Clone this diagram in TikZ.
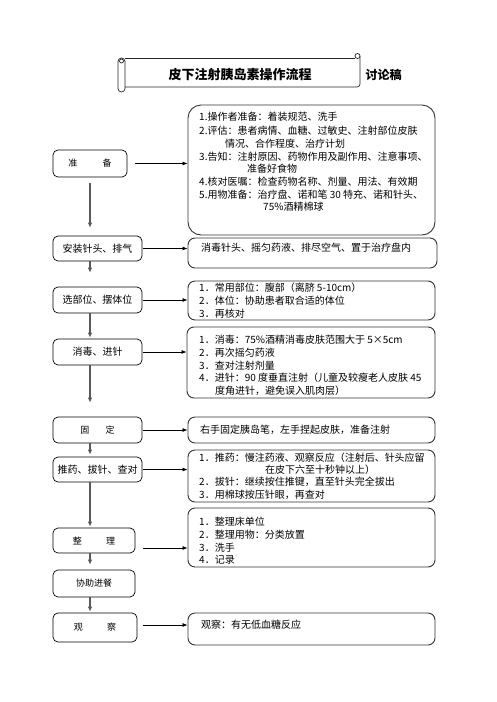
\documentclass[tikz,border=0pt]{standalone}
\usepackage{fontspec}
\setmainfont{Noto Sans CJK SC}
\usetikzlibrary{arrows.meta,calc}
\begin{document}
\begin{tikzpicture}[x=1pt,y=-1pt,
  lbox/.style={draw=black,line width=0.7pt,rounded corners=5pt,inner sep=0pt,font=\fontsize{10}{12}\selectfont},
  rbox/.style={draw=black!80,line width=0.9pt,rounded corners=7pt,inner sep=0pt},
  txt/.style={anchor=west,inner sep=0pt,font=\fontsize{10}{12}\selectfont},
  harr/.style={draw=black,line width=0.7pt,-{Latex[length=5pt,width=4pt]}},
  varr/.style={draw=black!65,line width=1.1pt,-{Latex[length=5pt,width=4.5pt]}},
  scroll/.style={draw=black!85,line width=0.7pt}]
\useasboundingbox (0,0) rectangle (496,702);
% title scroll
\draw[scroll] (125,58) -- (355,58);
\draw[scroll] (360,56) -- (360,84) arc[start angle=0,end angle=90,radius=3] -- (125,87);
\draw[scroll] (357.5,56) circle[radius=2.5];
\draw[scroll,rounded corners=3.4pt] (118,58) rectangle (125,92);
\draw[scroll] (121.5,61) circle[radius=2];
\node[inner sep=0pt,font=\bfseries\fontsize{13}{13}\selectfont] (title) at (240,75) {皮下注射胰岛素操作流程};
\node[inner sep=0pt,font=\bfseries\fontsize{12}{12}\selectfont] (draft) at (383.5,75) {讨论稿};
% left boxes
\node[lbox,minimum width=74pt,minimum height=27pt,font=\fontsize{9}{11}\selectfont] (n1) at (90,163.5) {准\hspace{2.8em}备};
\node[lbox,minimum width=89pt,minimum height=25pt] (n2) at (97.5,248.5) {安装针头、排气};
\node[lbox,minimum width=89pt,minimum height=26pt] (n3) at (97.5,300) {选部位、摆体位};
\node[lbox,minimum width=89pt,minimum height=26pt] (n4) at (97.5,352) {消毒、进针};
\node[lbox,minimum width=89pt,minimum height=26pt,font=\fontsize{9}{11}\selectfont] (n5) at (97.5,430) {固\hspace{1.8em}定};
\node[lbox,minimum width=89pt,minimum height=25pt] (n6) at (97.5,469.5) {推药、拔针、查对};
\node[lbox,minimum width=82pt,minimum height=25pt,font=\fontsize{9}{11}\selectfont] (n7) at (94,540.5) {整\hspace{2.7em}理};
\node[lbox,minimum width=82pt,minimum height=27pt,font=\fontsize{9}{11}\selectfont] (n8) at (94,583.5) {协助进餐};
\node[lbox,minimum width=84pt,minimum height=29pt,font=\fontsize{9}{11}\selectfont] (n9) at (95,627.5) {观\hspace{2.7em}察};
% right boxes
\node[rbox,rounded corners=13pt,minimum width=247pt,minimum height=130pt] (r1) at (311.5,170) {};
\node[rbox,minimum width=249pt,minimum height=30pt] (r2) at (312.5,253) {};
\node[rbox,minimum width=247pt,minimum height=39pt] (r3) at (311.5,300.5) {};
\node[rbox,minimum width=248pt,minimum height=71pt] (r4) at (311,362.5) {};
\node[rbox,minimum width=247pt,minimum height=26pt] (r5) at (311.5,430) {};
\node[rbox,minimum width=247pt,minimum height=52pt] (r6) at (311.5,476) {};
\node[rbox,minimum width=247pt,minimum height=59pt] (r7) at (311.5,537.5) {};
\node[rbox,minimum width=247pt,minimum height=32pt] (r8) at (311.5,629) {};
% texts
\node[txt] (t11) at (199,117) {1.操作者准备：着装规范、洗手};
\node[txt] (t12) at (199,130.5) {2.评估：患者病情、血糖、过敏史、注射部位皮肤};
\node[txt] (t13) at (225,143.5) {情况、合作程度、治疗计划};
\node[txt] (t14) at (199,156.5) {3.告知：注射原因、药物作用及副作用、注意事项、};
\node[txt] (t15) at (247,168.5) {准备好食物};
\node[txt] (t16) at (199,181.5) {4.核对医嘱：检查药物名称、剂量、用法、有效期};
\node[txt] (t17) at (199,194.5) {5.用物准备：治疗盘、诺和笔 30 特充、诺和针头、};
\node[txt] (t18) at (263,207) {75\%酒精棉球};
\node[txt] (t21) at (201,248) {消毒针头、摇匀药液、排尽空气、置于治疗盘内};
\node[txt] (t31) at (199,288) {1．常用部位：腹部（离脐 5-10cm）};
\node[txt] (t32) at (199,301) {2．体位：协助患者取合适的体位};
\node[txt] (t33) at (199,314) {3．再核对};
\node[txt] (t41) at (199,340) {1．消毒：75\%酒精消毒皮肤范围大于 5×5cm};
\node[txt] (t42) at (199,353) {2．再次摇匀药液};
\node[txt] (t43) at (199,365.5) {3．查对注射剂量};
\node[txt] (t44) at (199,378) {4．进针：90 度垂直注射（儿童及较瘦老人皮肤 45};
\node[txt] (t45) at (215,391) {度角进针，避免误入肌肉层）};
\node[txt] (t51) at (200,430) {右手固定胰岛笔，左手捏起皮肤，准备注射};
\node[txt] (t61) at (199,458) {1．推药：慢注药液、观察反应（注射后、针头应留};
\node[txt] (t62) at (265,470) {在皮下六至十秒钟以上）};
\node[txt] (t63) at (199,482) {2．拔针：继续按住推键，直至针头完全拔出};
\node[txt] (t64) at (199,495) {3．用棉球按压针眼，再查对};
\node[txt] (t71) at (199,522) {1．整理床单位};
\node[txt] (t72) at (199,534.5) {2．整理用物：分类放置};
\node[txt] (t73) at (199,547.5) {3．洗手};
\node[txt] (t74) at (199,560) {4．记录};
\node[txt] (t81) at (201,625) {观察：有无低血糖反应};
% horizontal arrows
\coordinate (c1) at ($(n1.east)+(8,0)$);
\coordinate (c2) at ($(n2.east)+(1,0)$);
\coordinate (c3) at ($(n3.east)+(1,0)$);
\coordinate (c4) at ($(n4.east)+(1,0)$);
\coordinate (c5) at ($(n5.east)+(1,0)$);
\coordinate (c6) at ($(n6.east)+(1,0)$);
\coordinate (c7) at ($(n7.east)+(8,7.5)$);
\coordinate (c9) at ($(n9.east)+(6,-2.5)$);
\draw[harr] (c1) -- (c1 -| r1.west);
\draw[harr] (c2) -- (c2 -| r2.west);
\draw[harr] (c3) -- (c3 -| r3.west);
\draw[harr] (c4) -- (c4 -| r4.west);
\draw[harr] (c5) -- (c5 -| r5.west);
\draw[harr] (c6) -- (c6 -| r6.west);
\draw[harr] (c7) -- (c7 -| r7.west);
\draw[harr] (c9) -- (c9 -| r8.west);
% vertical arrows
\coordinate (col) at (90,0);
\draw[varr] ($(n1.south-|col)+(0,6)$) -- ($(n2.north-|col)+(0,-8)$);
\draw[varr] ($(n2.south-|col)$) -- ($(n3.north-|col)+(0,-14)$);
\draw[varr] ($(n3.south-|col)$) -- ($(n4.north-|col)+(0,-1)$);
\draw[varr] ($(n4.south-|col)$) -- ($(n5.north-|col)+(0,-14)$);
\draw[varr] ($(n5.south-|col)$) -- ($(n6.north-|col)+(0,-2)$);
\draw[varr] ($(n6.south-|col)$) -- ($(n7.north-|col)+(0,-1)$);
\draw[varr] ($(n7.south-|col)$) -- ($(n8.north-|col)+(0,-5)$);
\draw[varr] ($(n8.south-|col)$) -- ($(n9.north-|col)+(0,-1)$);
\end{tikzpicture}
\end{document}
